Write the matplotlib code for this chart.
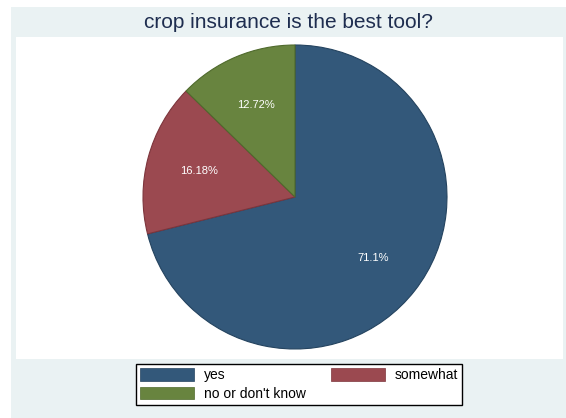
import numpy as np
import matplotlib.pyplot as plt
from matplotlib.patches import Rectangle, Patch

plt.rcParams['font.family'] = ['Liberation Sans', 'DejaVu Sans']

categories = ["yes", "somewhat", "no or don't know"]
shares = [71.1, 16.18, 12.72]
pct_labels = ["71.1%", "16.18%", "12.72%"]
colors = ["#33587a", "#9b4950", "#68843f"]
edges = ["#24435f", "#7d353c", "#4f6a2c"]

W, H = 566, 418
fig = plt.figure(figsize=(W / 100, H / 100), dpi=100)
fig.patch.set_facecolor("white")


def box(x0, y0, x1, y1):
    # pixel box (top-left origin) -> figure fraction
    return [x0 / W, 1 - y1 / H, (x1 - x0) / W, (y1 - y0) / H]


# outer graph panel and white plot region
fig.patches.append(Rectangle((11 / W, 0), (W - 11) / W, 1 - 7 / H,
                             transform=fig.transFigure, facecolor="#eaf2f3",
                             edgecolor="none", zorder=-20))
fig.patches.append(Rectangle((16 / W, 1 - 359 / H), (563 - 16) / W, (359 - 37) / H,
                             transform=fig.transFigure, facecolor="white",
                             edgecolor="none", zorder=-10))

fig.text(289 / W, 1 - 23 / H, "crop insurance is the best tool?",
         ha="center", va="center", fontsize=15, color="#1e2d4f")

ax = fig.add_axes(box(143, 45, 447, 349))
ax.set_zorder(1)
wedges, texts = ax.pie(shares, colors=colors, startangle=90, counterclock=False,
                       radius=1.0, wedgeprops=dict(linewidth=0.8))
for w, ec in zip(wedges, edges):
    w.set_edgecolor(ec)
for w, lab in zip(wedges, pct_labels):
    ang = np.deg2rad((w.theta1 + w.theta2) / 2)
    ax.text(0.655 * np.cos(ang), 0.655 * np.sin(ang), lab, ha="center", va="center",
            fontsize=8, color="white")
ax.set_xlim(-1, 1)
ax.set_ylim(-1, 1)
ax.set_aspect("equal")
ax.axis("off")

handles = [Patch(facecolor=colors[i], edgecolor=edges[i], linewidth=0.5) for i in (0, 2, 1)]
labels = [categories[i] for i in (0, 2, 1)]
leg = fig.legend(handles, labels, ncol=2, loc="center", bbox_to_anchor=(299 / W, 1 - 384.5 / H),
                 fontsize=10, frameon=True, fancybox=False, edgecolor="black",
                 framealpha=1.0, facecolor="white",
                 handlelength=3.9, handleheight=1.0, handletextpad=0.7,
                 columnspacing=1.8, labelspacing=0.3, borderpad=0.3)
leg.get_frame().set_linewidth(1.0)

fig.savefig("out.png", dpi=100)
